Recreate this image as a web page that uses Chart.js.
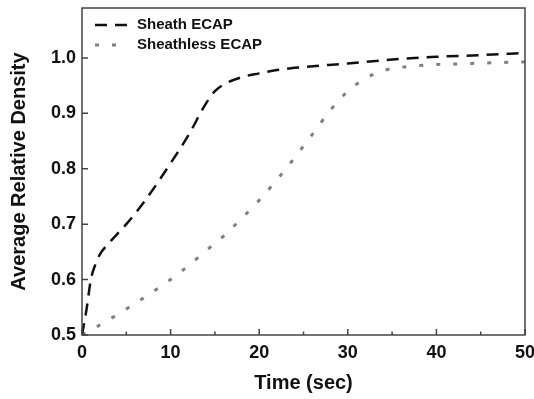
<!DOCTYPE html>
<html lang="en">
<head>
  <meta charset="UTF-8">
  <title>Average Relative Density vs Time</title>
  <script src="https://cdn.jsdelivr.net/npm/chart.js"></script>
  <style>
    body { margin: 0; background: #fff; }
    #wrap { width: 534px; height: 399px; }
  </style>
</head>
<body>
  <div id="wrap">
    <canvas id="myChart" width="534" height="399"></canvas>
  </div>
  <script>
    // values
    const sheathTime    = [0, 0.5, 1, 1.5, 2, 3, 5, 7, 10, 12, 14, 15, 16, 18, 20, 22, 24, 30, 35, 40, 45, 50];
    const sheathDensity = [0.5, 0.545, 0.6, 0.627, 0.645, 0.665, 0.70, 0.74, 0.81, 0.86, 0.918, 0.94, 0.952, 0.965, 0.972, 0.978, 0.982, 0.99, 0.997, 1.002, 1.005, 1.009];

    const sheathlessTime    = [0, 2, 4, 6, 8, 10, 12, 14, 16, 18, 20, 22, 24, 26, 28, 30, 32, 34, 36, 38, 40, 42, 44, 46, 48, 50];
    const sheathlessDensity = [0.5, 0.518, 0.537, 0.557, 0.578, 0.6, 0.625, 0.652, 0.679, 0.71, 0.743, 0.78, 0.82, 0.862, 0.905, 0.94, 0.963, 0.977, 0.983, 0.986, 0.988, 0.989, 0.99, 0.991, 0.992, 0.993];

    const seriesNames = ['Sheath ECAP', 'Sheathless ECAP'];
    const xTicks = [0, 10, 20, 30, 40, 50];
    const xMinorTicks = [5, 15, 25, 35, 45];
    const yTicks = [0.5, 0.6, 0.7, 0.8, 0.9, 1.0];

    const axisColor = '#444';
    const tickFont = { family: 'Liberation Sans, Arial, sans-serif', size: 18, weight: 'bold' };
    const titleFont = { family: 'Liberation Sans, Arial, sans-serif', size: 20, weight: 'bold' };

    const toPoints = (xs, ys) => xs.map((x, i) => ({ x: x, y: ys[i] }));

    function noEdgePadding(scale) {
      scale.paddingLeft = 0;
      scale.paddingRight = 0;
      scale.paddingTop = 0;
      scale.paddingBottom = 0;
    }

    // frame + inward tick marks
    const framePlugin = {
      id: 'frame',
      afterDatasetsDraw(chart) {
        const { ctx, chartArea: a, scales } = chart;
        ctx.save();
        ctx.strokeStyle = axisColor;
        ctx.lineWidth = 1.5;
        ctx.strokeRect(a.left, a.top, a.right - a.left, a.bottom - a.top);
        ctx.beginPath();
        xTicks.forEach(v => {
          const px = scales.x.getPixelForValue(v);
          ctx.moveTo(px, a.bottom); ctx.lineTo(px, a.bottom - 6);
        });
        xMinorTicks.forEach(v => {
          const px = scales.x.getPixelForValue(v);
          ctx.moveTo(px, a.bottom); ctx.lineTo(px, a.bottom - 3.5);
        });
        yTicks.forEach(v => {
          const py = scales.y.getPixelForValue(v);
          ctx.moveTo(a.left, py); ctx.lineTo(a.left + 6, py);
        });
        ctx.stroke();
        ctx.restore();
      }
    };

    // legend drawn inside the plot, top left
    const legendPlugin = {
      id: 'insideLegend',
      afterDatasetsDraw(chart) {
        const { ctx, chartArea: a } = chart;
        ctx.save();
        ctx.font = 'bold 15px "Liberation Sans", Arial, sans-serif';
        ctx.textBaseline = 'middle';
        chart.data.datasets.forEach((ds, i) => {
          const y = a.top + 17 + i * 20;
          ctx.strokeStyle = ds.borderColor;
          ctx.lineWidth = ds.borderWidth;
          ctx.setLineDash(ds.borderDash);
          ctx.beginPath();
          ctx.moveTo(a.left + 13, y);
          ctx.lineTo(a.left + 47, y);
          ctx.stroke();
          ctx.setLineDash([]);
          ctx.fillStyle = '#111';
          ctx.fillText(ds.label, a.left + 55, y);
        });
        ctx.restore();
      }
    };

    const ctx = document.getElementById('myChart').getContext('2d');
    const myChart = new Chart(ctx, {
      type: 'line',
      data: {
        datasets: [{
          label: seriesNames[0],
          data: toPoints(sheathTime, sheathDensity),
          borderColor: '#111',
          borderWidth: 2.5,
          borderDash: [12, 8],
          pointRadius: 0,
          cubicInterpolationMode: 'monotone',
          fill: false
        }, {
          label: seriesNames[1],
          data: toPoints(sheathlessTime, sheathlessDensity),
          borderColor: '#808080',
          borderWidth: 3,
          borderDash: [4, 13],
          pointRadius: 0,
          cubicInterpolationMode: 'monotone',
          fill: false
        }]
      },
      options: {
        responsive: false,
        animation: false,
        layout: { padding: { top: 8, right: 9, left: 0, bottom: 0 } },
        plugins: {
          legend: { display: false },
          tooltip: { enabled: false }
        },
        scales: {
          x: {
            type: 'linear',
            min: 0,
            max: 50,
            afterFit(scale) { scale.height = 64; noEdgePadding(scale); },
            afterBuildTicks(scale) { scale.ticks = xTicks.map(v => ({ value: v })); },
            grid: { display: false, drawTicks: false },
            border: { display: false },
            ticks: { color: '#111', font: tickFont, padding: 7, maxRotation: 0 },
            title: { display: true, text: 'Time (sec)', color: '#111', font: titleFont, padding: { top: 0, bottom: 4 } }
          },
          y: {
            type: 'linear',
            min: 0.5,
            max: 1.09,
            afterFit(scale) { scale.width = 82; noEdgePadding(scale); },
            afterBuildTicks(scale) { scale.ticks = yTicks.map(v => ({ value: v })); },
            grid: { display: false, drawTicks: false },
            border: { display: false },
            ticks: { color: '#111', font: tickFont, padding: 6, callback: v => v.toFixed(1) },
            title: { display: true, text: 'Average Relative Density', color: '#111', font: titleFont, padding: { top: 7, bottom: 0 } }
          }
        }
      },
      plugins: [framePlugin, legendPlugin]
    });
  </script>
</body>
</html>
